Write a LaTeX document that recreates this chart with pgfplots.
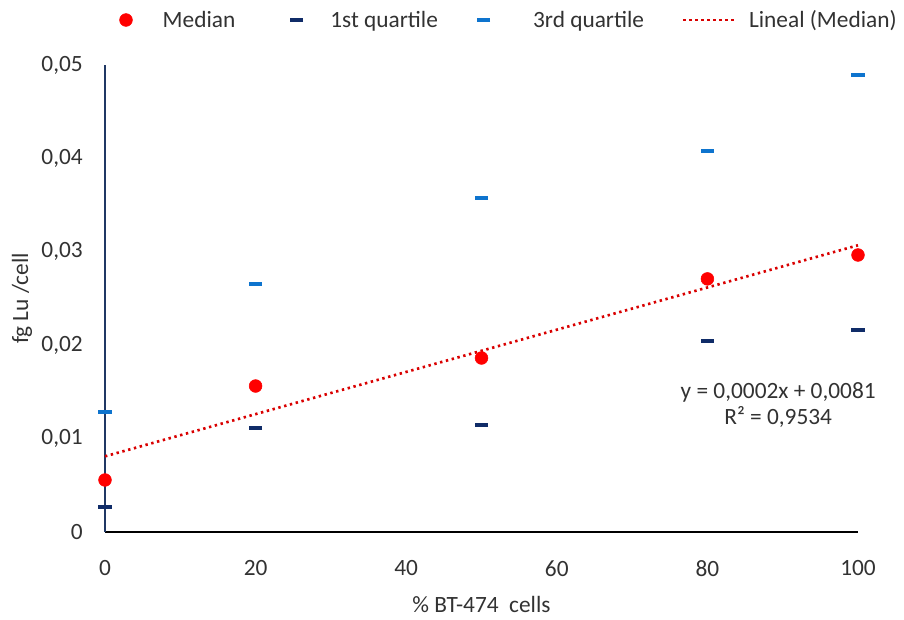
\documentclass[border=0pt]{standalone}
\usepackage{pgfplots}
\pgfplotsset{compat=1.18}
\usepackage{fontspec}
\setmainfont{Carlito}
\definecolor{qone}{RGB}{16,44,104}
\definecolor{qthree}{RGB}{14,116,206}
\definecolor{axblue}{RGB}{32,56,100}
\definecolor{txt}{RGB}{50,50,50}
\pgfplotsset{longlegend/.style={legend image code/.code={\draw[##1] (0pt,0pt) -- (40pt,0pt);}}}
\newcommand{\fs}{\fontsize{17.5}{20}\selectfont}
\begin{document}
\begin{tikzpicture}[x=0.75pt,y=0.75pt]
\begin{axis}[
  at={(0,0)}, anchor=origin,
  scale only axis,
  width=564.75pt, height=350.25pt,
  xmin=0, xmax=100, ymin=0, ymax=0.05,
  axis x line*=bottom, axis y line*=left,
  x axis line style={black, line width=1.1pt, -},
  y axis line style={axblue, line width=1.3pt, -},
  xtick={0,20,40,60,80,100},
  ytick={0,0.01,0.02,0.03,0.04,0.05},
  yticklabels={0,{0,01},{0,02},{0,03},{0,04},{0,05}},
  scaled y ticks=false,
  major tick length=0pt,
  tick style={draw=none},
  /pgf/number format/assume math mode=true,
  ticklabel style={font=\fs, text=txt, inner sep=0pt},
  xticklabel style={anchor=north, yshift=-21pt},
  yticklabel style={anchor=east, xshift=-16.5pt},
  xlabel={\% BT-474\ \ cells},
  ylabel={fg Lu /cell},
  label style={font=\fs, text=txt, inner sep=0pt},
  xlabel style={at={(axis description cs:0.5,0)}, anchor=base, yshift=-60pt},
  ylabel style={at={(axis description cs:-0.1102,0.5)}, anchor=center},
  clip=false,
  legend columns=4,
  legend style={draw=none, fill=none, inner sep=0pt, outer sep=0pt,
     at={(axis description cs:0.0194,1.0964)}, anchor=west,
     font=\fs, text=txt,
     nodes={inner sep=0pt},
     /tikz/column 1/.style={column sep=22.75pt},
     /tikz/column 2/.style={column sep=41pt},
     /tikz/column 3/.style={column sep=20.5pt},
     /tikz/column 4/.style={column sep=29.3pt},
     /tikz/column 5/.style={column sep=32.25pt},
     /tikz/column 6/.style={column sep=28.5pt},
     /tikz/column 7/.style={column sep=8.25pt}},
  legend cell align=left,
]
\addplot[only marks, mark=*, mark size=4.8pt, color=red, mark options={fill=red, draw=red}]
  coordinates {(0,0.00557) (20,0.01563) (50,0.01863) (80,0.0271) (100,0.02966)};
\addlegendentry{Median}
\addplot[only marks, mark=-, mark size=4.9pt, color=qone, mark options={line width=3pt}]
  coordinates {(0,0.00268) (20,0.01113) (50,0.01146) (80,0.02045) (100,0.02163)};
\addlegendentry{1st quartile}
\addplot[only marks, mark=-, mark size=4.9pt, color=qthree, mark options={line width=3pt}]
  coordinates {(0,0.01285) (20,0.02655) (50,0.03576) (80,0.04079) (100,0.04893)};
\addlegendentry{3rd quartile}
\addplot[color=red!85!black, line width=2pt, dash pattern=on 1.8pt off 2.7pt, longlegend]
  coordinates {(0,0.0081) (100,0.0307)};
\addlegendentry{Lineal (Median)}
\node[align=center, font=\fs, text=txt, anchor=center] at (axis cs:89.4,0.0136) {y = 0,0002x + 0,0081\\R² = 0,9534};
\end{axis}
\pgfresetboundingbox
\useasboundingbox (-105,-87) rectangle (799,532);
\end{tikzpicture}
\end{document}
